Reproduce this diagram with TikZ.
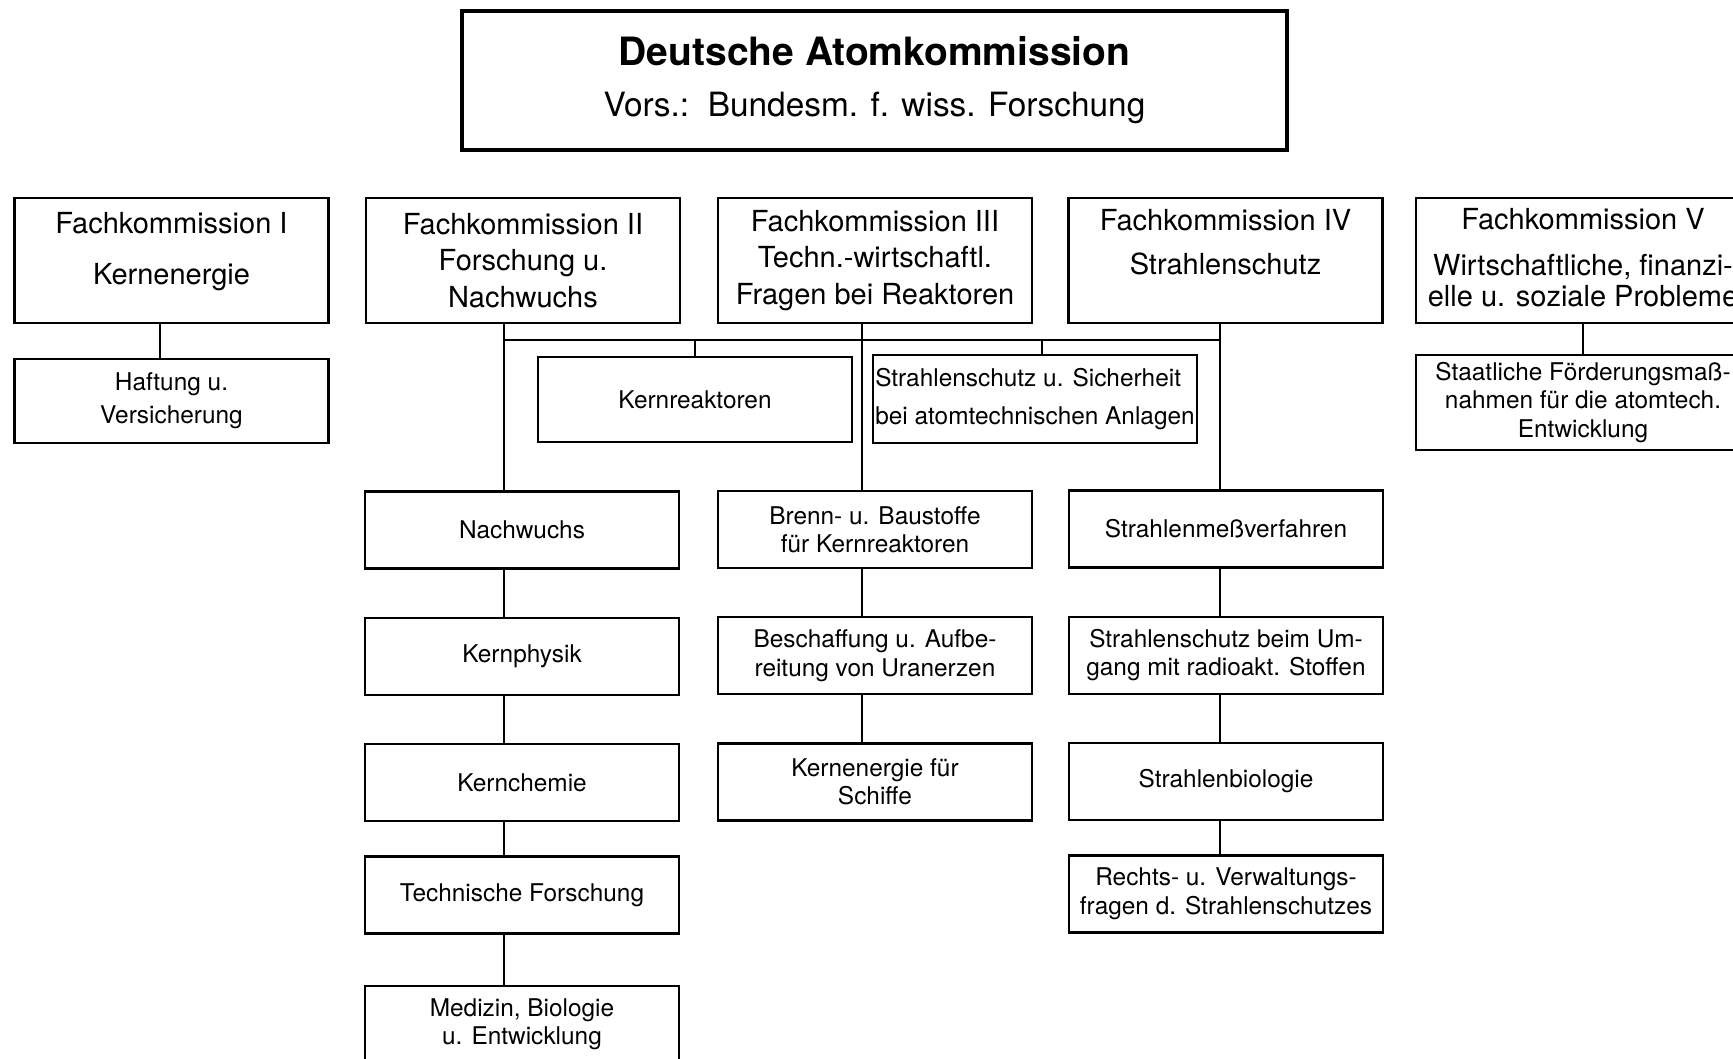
\documentclass[tikz,border=0pt]{standalone}
\usepackage{fontspec}
\setmainfont{TeX Gyre Heros}
\usetikzlibrary{positioning}

\begin{document}
\begin{tikzpicture}[
        x=0.5pt,
        y=-0.5pt,
        node distance=23.4pt,
        % Estilo para la comision principal
        mainbox/.style={
                rectangle,
                draw=black,
                line width=1.8pt,
                minimum width=412.5pt,
                minimum height=69.5pt,
                inner sep=0pt,
                align=center,
                font=\fontsize{16.7}{25.5}\selectfont
            },
        % Estilo para las Fachkommissionen
        fkbox/.style={
                rectangle,
                draw=black,
                line width=1.2pt,
                minimum width=157pt,
                minimum height=62.5pt,
                inner sep=0pt,
                align=center,
                font=\fontsize{14.5}{18.2}\selectfont
            },
        % Estilo para los grupos de trabajo
        subbox/.style={
                rectangle,
                draw=black,
                line width=1.2pt,
                minimum width=157pt,
                minimum height=38.5pt,
                inner sep=0pt,
                align=center,
                font=\fontsize{12.2}{14.2}\selectfont
            },
        % Lineas
        link/.style={
                line width=1pt,
                color=black
            }
    ]

    \useasboundingbox (0,0) rectangle (1733,1059);

    % Comision principal
    \node[mainbox] (dak) at (874.5,80.5) {{\fontsize{19.5}{25.5}\selectfont\bfseries Deutsche Atomkommission}\\Vors.:\ \ Bundesm. f. wiss. Forschung};

    % Fachkommissionen
    \node[fkbox, text depth=12pt] (fk1) at (171.5,260.5) {Fachkommission I\\[7.3pt]Kernenergie};
    \node[fkbox] (fk2) at (523,260.5) {Fachkommission II\\Forschung u.\\Nachwuchs};
    \node[fkbox] (fk3) at (875,260.5) {Fachkommission III\\Techn.-wirtschaftl.\\Fragen bei Reaktoren};
    \node[fkbox, text depth=19pt] (fk4) at (1225.5,260.5) {Fachkommission IV\\[3.8pt]Strahlenschutz};
    \node[fkbox, minimum width=167pt, text depth=3pt] (fk5) at (1583,260.5) {Fachkommission V\\[4.8pt]Wirtschaftliche, finanzi-\\[-2.7pt]elle u. soziale Probleme};

    % Grupos bajo las Fachkommissionen
    \node[subbox, minimum height=42pt, font=\fontsize{12.2}{16.5}\selectfont] (haft) at (171.5,401) {Haftung u.\\Versicherung};
    \node[subbox, minimum height=42.5pt] (kreakt) at (695,399.5) {Kernreaktoren};
    \node[subbox, minimum width=162pt, minimum height=44pt, align=left, font=\fontsize{12.2}{18.8}\selectfont] (ssich) at (1035,399) {Strahlenschutz u. Sicherheit\\bei atomtechnischen Anlagen};
    \node[subbox, minimum width=167pt, minimum height=47.5pt] (foerd) at (1583,402.5) {Staatliche Förderungsmaß-\\nahmen für die atomtech.\\Entwicklung};

    % Columna II
    \node[subbox] (nachw) at (522,530) {Nachwuchs};
    \node[subbox, below=of nachw] (kphys) {Kernphysik};
    \node[subbox, below=of kphys] (kchem) {Kernchemie};
    \node[subbox, below=16.5pt of kchem] (tforsch) {Technische Forschung};
    \node[subbox, below=25pt of tforsch] (medbio) {Medizin, Biologie\\u. Entwicklung};

    % Columna III
    \node[subbox] (brenn) at (875,529.5) {Brenn- u. Baustoffe\\für Kernreaktoren};
    \node[subbox, below=of brenn] (uran) {Beschaffung u. Aufbe-\\reitung von Uranerzen};
    \node[subbox, below=of uran] (schiffe) {Kernenergie für\\Schiffe};

    % Columna IV
    \node[subbox] (smess) at (1226,529) {Strahlenmeßverfahren};
    \node[subbox, below=of smess] (sumg) {Strahlenschutz beim Um-\\gang mit radioakt. Stoffen};
    \node[subbox, below=of sumg] (sbio) {Strahlenbiologie};
    \node[subbox, below=16.5pt of sbio] (recht) {Rechts- u. Verwaltungs-\\fragen d. Strahlenschutzes};

    % Ejes de las lineas
    \coordinate (s1) at (160,0);
    \coordinate (s2) at (504,0);
    \coordinate (s3) at (862,0);
    \coordinate (s4) at (1220,0);
    \coordinate (s5) at (1583,0);
    \coordinate (s6) at (1042,0);
    \coordinate (busL) at (504,340);
    \coordinate (busR) at (1220,340);

    % Lineas
    \draw[link] (fk1.south -| s1) -- (haft.north -| s1);
    \draw[link] (fk5.south -| s5) -- (foerd.north -| s5);
    \draw[link] (busL) -- (busR);
    \draw[link] (kreakt.north) -- (kreakt.north |- busL);
    \draw[link] (ssich.north -| s6) -- (busL -| s6);

    \draw[link] (fk2.south -| s2) -- (nachw.north -| s2);
    \draw[link] (nachw.south -| s2) -- (kphys.north -| s2);
    \draw[link] (kphys.south -| s2) -- (kchem.north -| s2);
    \draw[link] (kchem.south -| s2) -- (tforsch.north -| s2);
    \draw[link] (tforsch.south -| s2) -- (medbio.north -| s2);

    \draw[link] (fk3.south -| s3) -- (brenn.north -| s3);
    \draw[link] (brenn.south -| s3) -- (uran.north -| s3);
    \draw[link] (uran.south -| s3) -- (schiffe.north -| s3);

    \draw[link] (fk4.south -| s4) -- (smess.north -| s4);
    \draw[link] (smess.south -| s4) -- (sumg.north -| s4);
    \draw[link] (sumg.south -| s4) -- (sbio.north -| s4);
    \draw[link] (sbio.south -| s4) -- (recht.north -| s4);

\end{tikzpicture}
\end{document}
